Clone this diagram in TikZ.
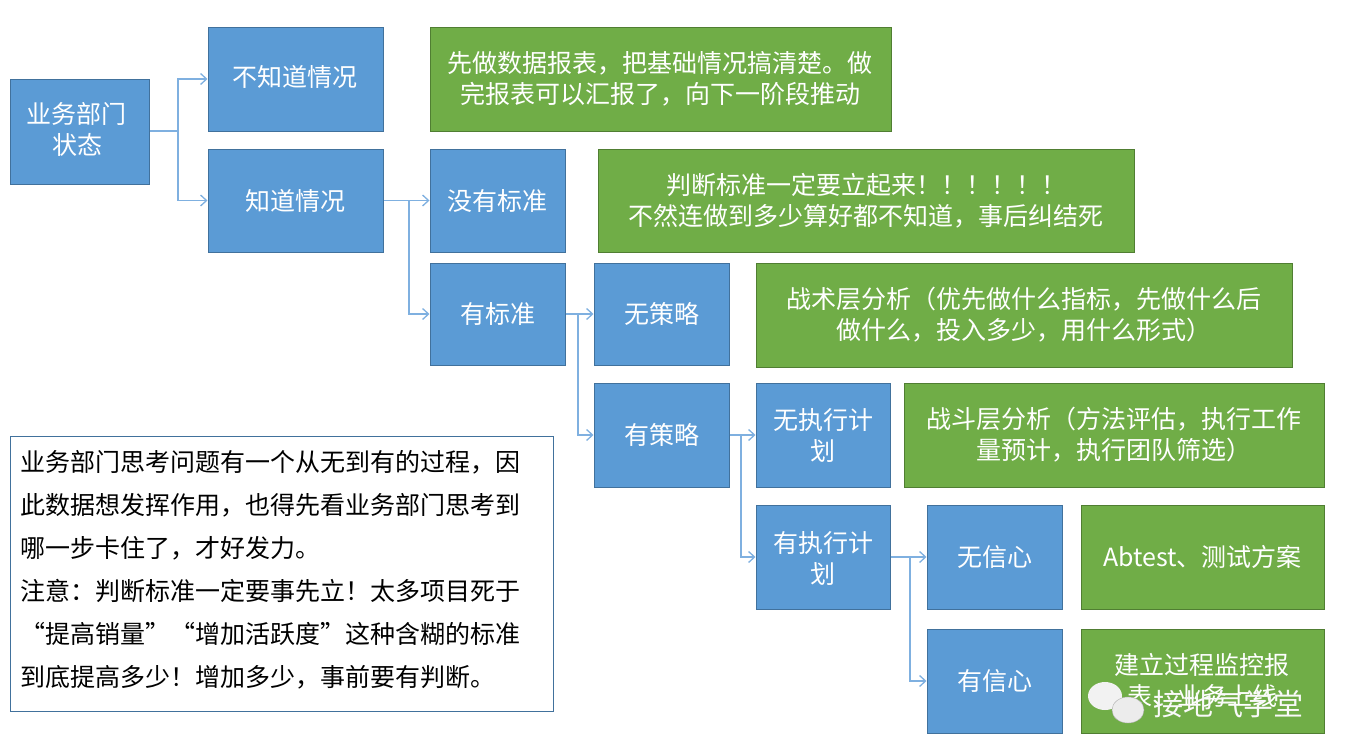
\documentclass[tikz,border=0pt]{standalone}
\usepackage{fontspec}
\setmainfont{Noto Sans CJK SC}
\usetikzlibrary{arrows.meta}
\definecolor{bfill}{HTML}{5B9BD5}
\definecolor{bdraw}{HTML}{41719C}
\definecolor{gfill}{HTML}{70AD47}
\definecolor{gdraw}{HTML}{507E32}
\definecolor{conn}{HTML}{7FB0E0}
\begin{document}
\begin{tikzpicture}[x=1pt,y=-1pt,
  bx/.style={draw=bdraw,fill=bfill,line width=1pt},
  gx/.style={draw=gdraw,fill=gfill,line width=1pt},
  tx/.style={text=white,font=\fontsize{25}{31}\selectfont,align=center,inner sep=0pt},
  ar/.style={draw=conn,line width=1.6pt,-{Straight Barb[length=6pt,width=11pt,line width=1.3pt]}}]
\useasboundingbox (0,0) rectangle (1350,755);
\newcommand{\bxat}[6]{\node[#1,minimum width=#4-#2,minimum height=#5-#3,inner sep=0pt] (#6) at ({(#2+#4)/2},{(#3+#5)/2}) {};}
\bxat{bx}{10}{79}{149}{184}{A}
\bxat{bx}{208}{27}{383}{131}{B}
\bxat{bx}{208}{149}{383}{252}{C}
\bxat{gx}{430}{27}{891}{131}{G1}
\bxat{bx}{430}{149}{565}{252}{D}
\bxat{gx}{598}{149}{1134}{252}{G2}
\bxat{bx}{430}{263}{565}{365}{E}
\bxat{bx}{594}{263}{729}{365}{F}
\bxat{gx}{756}{263}{1292}{367}{G3}
\bxat{bx}{594}{383}{729}{487}{H}
\bxat{bx}{756}{383}{890}{487}{I}
\bxat{gx}{904}{383}{1324}{487}{G4}
\bxat{bx}{756}{505}{890}{609}{J}
\bxat{bx}{927}{505}{1062}{609}{K}
\bxat{gx}{1081}{505}{1324}{609}{G5}
\bxat{bx}{927}{629}{1062}{733}{L}
\bxat{gx}{1081}{629}{1324}{733}{G6}
\node[draw=bdraw,fill=white,line width=1pt,minimum width=543pt,minimum height=275pt,inner sep=0pt] (N) at (281.5,573.5) {};
% texts
\node[tx] at (77,129) {业务部门\\状态};
\node[tx] at (295,77) {不知道情况};
\node[tx] at (C) {知道情况};
\node[tx] at (D) {没有标准};
\node[tx] at (E) {有标准};
\node[tx] at (F) {无策略};
\node[tx] at (H) {有策略};
\node[tx] at (823,435) {无执行计\\划};
\node[tx] at (823,558) {有执行计\\划};
\node[tx] at (K) {无信心};
\node[tx] at (L) {有信心};
\node[tx] at (660,79) {先做数据报表，把基础情况搞清楚。做\\完报表可以汇报了，向下一阶段推动};
\node[tx] at (G2) {判断标准一定要立起来！！！！！！\\不然连做到多少算好都不知道，事后纠结死};
\node[tx] at (G3) {战术层分析（优先做什么指标，先做什么后\\做什么，投入多少，用什么形式）};
\node[tx] at (G4) {战斗层分析（方法评估，执行工作\\量预计，执行团队筛选）};
\node[tx] at (G5) {Abtest、测试方案};
\node[tx] (G6t) at (1202,680) {建立过程监控报\\表、业务上线};
\node[text=black,font=\fontsize{25}{43}\selectfont,align=left,anchor=north west,inner sep=0pt] at (20,450) {业务部门思考问题有一个从无到有的过程，因\\此数据想发挥作用，也得先看业务部门思考到\\哪一步卡住了，才好发力。\\注意：判断标准一定要事先立！太多项目死于\\“提高销量”“增加活跃度”这种含糊的标准\\到底提高多少！增加多少，事前要有判断。};
% watermark
\fill[white!90!gray] (1105,696) ellipse (17 and 14);
\fill[white!85!gray,draw=gray!60] (1128,710) ellipse (16 and 13);
\node[text=white!95!gray,font=\fontsize{30}{30}\selectfont] at (1228,704) {接地气学堂};
% connectors
\coordinate (j1) at (178,131);
\draw[ar] (A.east|-j1) -- (j1) |- (B.west|-0,79);
\draw[ar] (j1) |- (C.west);
\coordinate (j2) at (409,200);
\draw[ar] (C.east) -- (D.west);
\draw[ar] (j2) |- (E.west);
\coordinate (j3) at (578,314);
\draw[ar] (E.east) -- (F.west);
\draw[ar] (j3) |- (H.west);
\coordinate (j4) at (741,435);
\draw[ar] (H.east) -- (I.west);
\draw[ar] (j4) |- (J.west);
\coordinate (j5) at (910,557);
\draw[ar] (J.east) -- (K.west);
\draw[ar] (j5) |- (L.west);
\end{tikzpicture}
\end{document}
